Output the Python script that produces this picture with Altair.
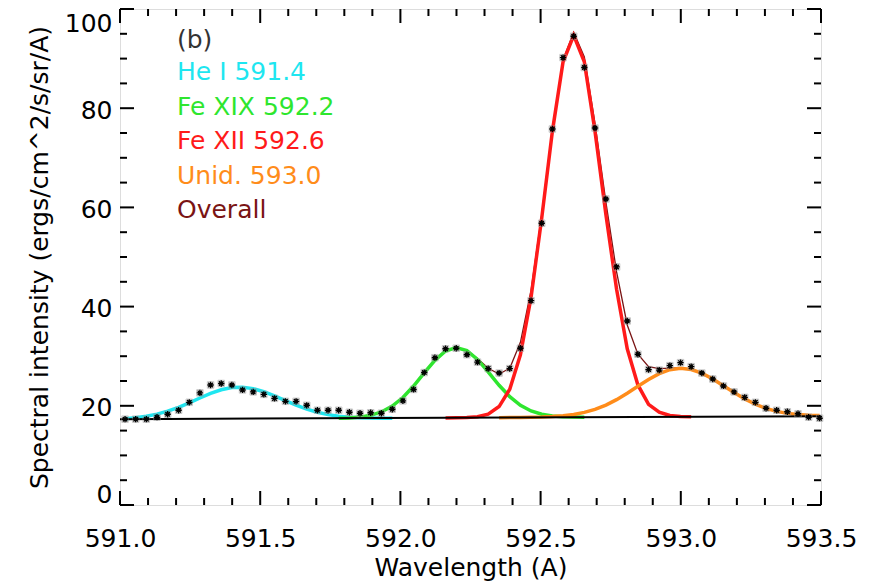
import altair as alt
import pandas as pd

# ---- data ----
wavelength = [591.018, 591.056, 591.094, 591.132, 591.170, 591.209, 591.247, 591.285, 591.323, 591.361,
              591.399, 591.437, 591.475, 591.513, 591.551, 591.590, 591.628, 591.666, 591.704, 591.742,
              591.780, 591.818, 591.856, 591.894, 591.932, 591.971, 592.009, 592.047, 592.085, 592.123,
              592.161, 592.199, 592.237, 592.275, 592.313, 592.352, 592.390, 592.428, 592.466, 592.504,
              592.542, 592.580, 592.618, 592.656, 592.694, 592.733, 592.771, 592.809, 592.847, 592.885,
              592.923, 592.961, 592.999, 593.037, 593.075, 593.114, 593.152, 593.190, 593.228, 593.266,
              593.304, 593.342, 593.380, 593.418, 593.456, 593.495]
observed = [17.3, 17.3, 17.3, 17.7, 18.3, 19.1, 20.7, 22.6, 24.2, 24.5,
            24.2, 23.2, 22.8, 22.3, 21.5, 20.9, 20.9, 20.1, 19.1, 19.1,
            19.1, 18.7, 18.5, 18.6, 18.5, 19.3, 21.0, 23.3, 26.7, 29.7,
            31.5, 31.6, 30.3, 28.8, 27.5, 26.6, 27.5, 31.6, 41.2, 56.8,
            75.8, 90.2, 94.5, 88.2, 76.0, 61.7, 48.0, 37.1, 30.4, 27.3,
            27.2, 28.1, 28.7, 27.9, 26.6, 25.4, 24.0, 22.8, 21.7, 20.7,
            19.5, 19.1, 18.8, 18.4, 17.7, 17.5]

# fitted components (read at the same wavelengths), index ranges noted
he1_idx = (0, 26)
he1 = [17.41, 17.60, 17.89, 18.32, 18.92, 19.70, 20.61, 21.57, 22.49, 23.23,
       23.68, 23.76, 23.46, 22.84, 22.00, 21.04, 20.13, 19.33, 18.69, 18.22,
       17.90, 17.71, 17.59, 17.53, 17.51, 17.50]
fe19_idx = (20, 44)
fe19 = [17.47, 17.55, 17.72, 18.08, 18.75, 19.93, 21.67, 23.98, 26.63, 29.17,
        31.04, 31.76, 31.13, 29.34, 26.84, 24.14, 21.84, 20.11, 18.96, 18.29,
        17.94, 17.79, 17.73, 17.71]
fe12_idx = (30, 54)
fe12 = [17.55, 17.57, 17.62, 17.80, 18.33, 19.85, 23.34, 30.30, 41.90, 57.84,
        75.33, 89.31, 94.69, 89.34, 75.37, 58.50, 43.50, 31.50, 24.20, 20.30,
        18.70, 18.05, 17.85, 17.80]
unid_idx = (35, 66)
unid = [17.61, 17.62, 17.65, 17.68, 17.73, 17.83, 17.99, 18.25, 18.67, 19.28,
        20.15, 21.24, 22.53, 23.93, 25.31, 26.48, 27.28, 27.57, 27.32, 26.57,
        25.40, 24.06, 22.67, 21.39, 20.31, 19.47, 18.87, 18.47, 18.23, 18.09,
        18.03]
overall = [17.42, 17.60, 17.89, 18.32, 18.92, 19.70, 20.61, 21.58, 22.49, 23.23,
           23.68, 23.76, 23.46, 22.84, 22.01, 21.04, 20.13, 19.33, 18.69, 18.22,
           17.94, 17.82, 17.86, 18.15, 18.78, 19.94, 21.67, 23.98, 26.64, 29.18,
           31.04, 31.77, 31.18, 29.55, 27.58, 26.39, 27.57, 32.80, 43.26, 58.56,
           75.77, 89.73, 95.30, 90.32, 76.95, 61.00, 47.00, 36.30, 30.40, 27.90,
           27.50, 27.60, 27.65, 27.35, 26.60, 25.43, 24.09, 22.70, 21.42, 20.34,
           19.50, 18.90, 18.49, 18.25, 18.11, 18.03]
baseline_x = [591.0, 593.5]
baseline_y = [17.3, 17.9]

legend_labels = ["(b)", "He I 591.4", "Fe XIX 592.2", "Fe XII 592.6", "Unid. 593.0", "Overall"]
legend_colors = ["#333333", "#1EE6F0", "#2EE62E", "#FF1A1A", "#FF8C1A", "#7A1414"]

x_major = [591.0, 591.5, 592.0, 592.5, 593.0, 593.5]
x_minor = [591.1, 591.2, 591.3, 591.4, 591.6, 591.7, 591.8, 591.9, 592.1, 592.2, 592.3, 592.4,
           592.6, 592.7, 592.8, 592.9, 593.1, 593.2, 593.3, 593.4]
y_major = [0, 20, 40, 60, 80, 100]
y_minor = [5, 10, 15, 25, 30, 35, 45, 50, 55, 65, 70, 75, 85, 90, 95]

W, H = 701, 496
FONT = "DejaVu Sans"

xs = alt.Scale(domain=[591.0, 593.5], nice=False, zero=False)
ys = alt.Scale(domain=[0, 100], nice=False, zero=False)


def seg(idx, vals, name):
    return pd.DataFrame({"wl": wavelength[idx[0]:idx[1]], "v": vals, "s": name})


df_obs = pd.DataFrame({"wl": wavelength, "v": observed})
df_over = pd.DataFrame({"wl": wavelength, "v": overall})
df_base = pd.DataFrame({"wl": baseline_x, "v": baseline_y})

X = alt.X("wl:Q", scale=xs,
          axis=alt.Axis(values=x_major, format=".1f", title="Wavelength (A)", ticks=False,
                        domain=False, grid=False, labelFontSize=25, labelPadding=21,
                        labelFlush=False, labelOverlap=False,
                        titleFontSize=25, titlePadding=4, labelFont=FONT, titleFont=FONT,
                        labelColor="black", titleColor="black", titleFontWeight="normal"))
Y = alt.Y("v:Q", scale=ys,
          axis=alt.Axis(values=y_major, title="Spectral intensity (ergs/cm^2/s/sr/A)", ticks=False,
                        domain=False, grid=False, labelFontSize=25, labelPadding=8,
                        labelFlush=True, labelOffset=2, labelOverlap=False,
                        titleFontSize=25, titlePadding=12, labelFont=FONT, titleFont=FONT,
                        labelColor="black", titleColor="black", titleFontWeight="normal"))

layers = []
layers.append(alt.Chart(df_over).mark_line(color=legend_colors[5], strokeWidth=1.3).encode(x=X, y=Y))
for idx, vals, col in [(he1_idx, he1, legend_colors[1]), (fe19_idx, fe19, legend_colors[2]),
                       (fe12_idx, fe12, legend_colors[3]), (unid_idx, unid, legend_colors[4])]:
    layers.append(alt.Chart(seg(idx, vals, col)).mark_line(color=col, strokeWidth=3.5)
                  .encode(x=alt.X("wl:Q", scale=xs), y=alt.Y("v:Q", scale=ys)))
layers.append(alt.Chart(df_base).mark_line(color="black", strokeWidth=2)
              .encode(x=alt.X("wl:Q", scale=xs), y=alt.Y("v:Q", scale=ys)))

# data points: boxed asterisks
layers.append(alt.Chart(df_obs).mark_point(shape="square", size=42, filled=False, color="#9a9a9a",
                                           strokeWidth=0.8, opacity=0.7)
              .encode(x=alt.X("wl:Q", scale=xs), y=alt.Y("v:Q", scale=ys)))
layers.append(alt.Chart(df_obs).mark_point(
    shape="M-1,0L1,0M0,-1L0,1M-0.72,-0.72L0.72,0.72M-0.72,0.72L0.72,-0.72",
    size=40, filled=False, color="black", strokeWidth=1.4, opacity=1)
    .encode(x=alt.X("wl:Q", scale=xs), y=alt.Y("v:Q", scale=ys)))

# inward ticks on all four sides
dxM = pd.DataFrame({"t": x_major})
dxm = pd.DataFrame({"t": x_minor})
dyM = pd.DataFrame({"t": y_major})
dym = pd.DataFrame({"t": y_minor})
for d, L in [(dxM, 14), (dxm, 7)]:
    layers.append(alt.Chart(d).mark_rule(color="black", strokeWidth=2).encode(
        x=alt.X("t:Q", scale=xs), y=alt.value(H), y2=alt.value(H - L)))
    layers.append(alt.Chart(d).mark_rule(color="black", strokeWidth=2).encode(
        x=alt.X("t:Q", scale=xs), y=alt.value(0), y2=alt.value(L)))
for d, L in [(dyM, 14), (dym, 7)]:
    layers.append(alt.Chart(d).mark_rule(color="black", strokeWidth=2).encode(
        y=alt.Y("t:Q", scale=ys), x=alt.value(0), x2=alt.value(L)))
    layers.append(alt.Chart(d).mark_rule(color="black", strokeWidth=2).encode(
        y=alt.Y("t:Q", scale=ys), x=alt.value(W), x2=alt.value(W - L)))

# legend texts
leg_y = [39, 71, 105.5, 140, 174.5, 209]
for lab, col, yy in zip(legend_labels, legend_colors, leg_y):
    layers.append(alt.Chart(pd.DataFrame({"l": [lab]})).mark_text(
        align="left", baseline="alphabetic", fontSize=25, font=FONT, color=col).encode(
        text="l:N", x=alt.value(57), y=alt.value(yy)))

chart = alt.layer(*layers).properties(
    width=W, height=H,
    autosize=alt.AutoSizeParams(type="none"),
    padding={"left": 120, "top": 9, "right": 55, "bottom": 81},
).configure_view(stroke="black", strokeWidth=2).configure(background="white")

chart.save("out.html", embed_options={"renderer": "svg", "actions": False})
